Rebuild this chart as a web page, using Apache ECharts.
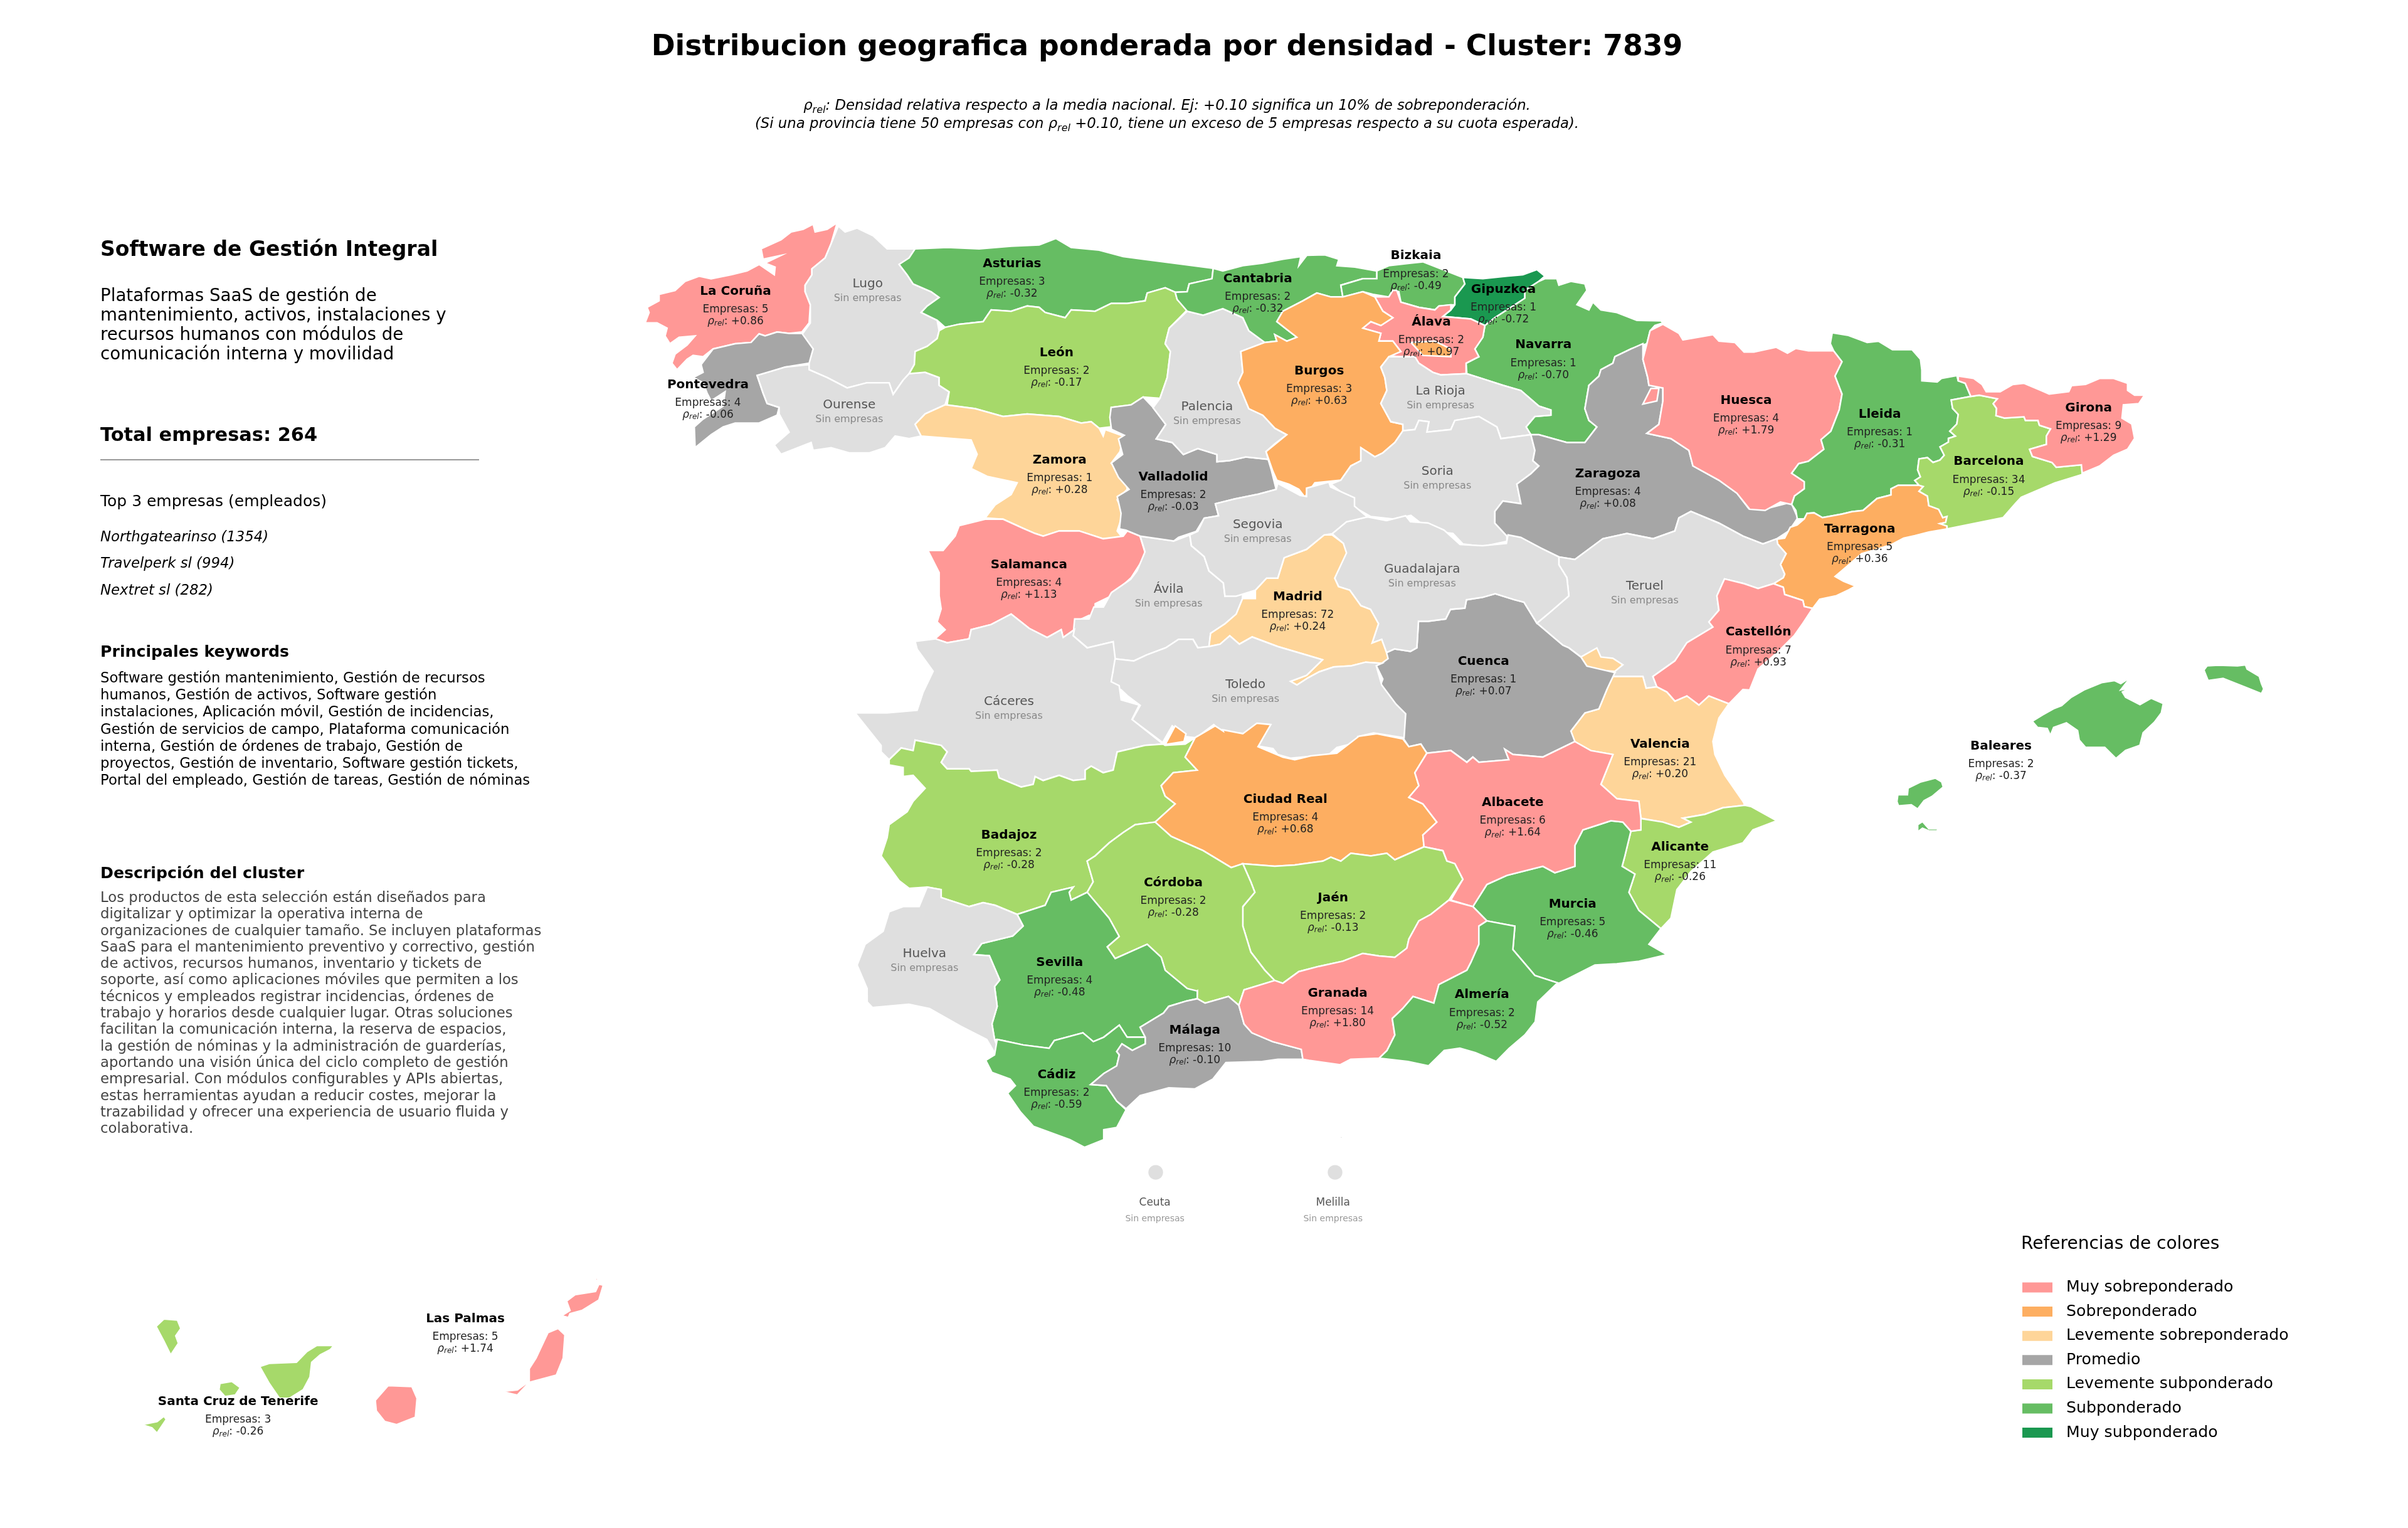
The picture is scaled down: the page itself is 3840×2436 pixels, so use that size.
<!DOCTYPE html>
<html>
<head>
<meta charset="utf-8">
<title>Distribucion geografica - Cluster 7839</title>
<script src="https://cdn.jsdelivr.net/npm/echarts@6/dist/echarts.min.js"></script>
<style>
html, body { margin: 0; background: #fff; }
#chart { width: 3840px; height: 2436px; }
</style>
</head>
<body>
<div id="chart"></div>
<script>
// datos por provincia (null = sin empresas)
var provinces = ['La Coruña', 'Lugo', 'Pontevedra', 'Ourense', 'Asturias', 'León', 'Zamora', 'Salamanca', 'Ávila', 'Valladolid', 'Palencia', 'Cantabria', 'Bizkaia', 'Gipuzkoa', 'Navarra', 'Álava', 'Burgos', 'La Rioja', 'Soria', 'Zaragoza', 'Huesca', 'Lleida', 'Tarragona', 'Barcelona', 'Girona', 'Teruel', 'Castellón', 'Valencia', 'Alicante', 'Murcia', 'Cuenca', 'Guadalajara', 'Madrid', 'Segovia', 'Toledo', 'Cáceres', 'Badajoz', 'Ciudad Real', 'Albacete', 'Jaén', 'Córdoba', 'Sevilla', 'Huelva', 'Cádiz', 'Málaga', 'Granada', 'Almería', 'Baleares', 'Santa Cruz de Tenerife', 'Las Palmas', 'Ceuta', 'Melilla'];
var empresas = [5, null, 4, null, 3, 2, 1, 4, null, 2, null, 2, 2, 1, 1, 2, 3, null, null, 4, 4, 1, 5, 34, 9, null, 7, 21, 11, 5, 1, null, 72, null, null, null, 2, 4, 6, 2, 2, 4, null, 2, 10, 14, 2, 2, 3, 5, null, null];
var rhoRel = [0.86, null, -0.06, null, -0.32, -0.17, 0.28, 1.13, null, -0.03, null, -0.32, -0.49, -0.72, -0.70, 0.97, 0.63, null, null, 0.08, 1.79, -0.31, 0.36, -0.15, 1.29, null, 0.93, 0.20, -0.26, -0.46, 0.07, null, 0.24, null, null, null, -0.28, 0.68, 1.64, -0.13, -0.28, -0.48, null, -0.59, -0.10, 1.80, -0.52, -0.37, -0.26, 1.74, null, null];

// leyenda
var legendLabels = ['Muy sobreponderado', 'Sobreponderado', 'Levemente sobreponderado', 'Promedio', 'Levemente subponderado', 'Subponderado', 'Muy subponderado'];
var legendColors = ['#ff9896', '#fdae61', '#fed599', '#a6a6a6', '#a6d96a', '#66bd63', '#1a9850'];
var legendMin = [0.75, 0.3, 0.1, -0.11, -0.3, -0.71, -Infinity];
var legendMax = [Infinity, 0.75, 0.3, 0.1, -0.11, -0.3, -0.71];

// textos del panel izquierdo
var topCompanies = ['Northgatearinso (1354)', 'Travelperk sl (994)', 'Nextret sl (282)'];
var summaryLines = ['Plataformas SaaS de gestión de', 'mantenimiento, activos, instalaciones y', 'recursos humanos con módulos de', 'comunicación interna y movilidad'];
var keywordLines = ['Software gestión mantenimiento, Gestión de recursos', 'humanos, Gestión de activos, Software gestión', 'instalaciones, Aplicación móvil, Gestión de incidencias,', 'Gestión de servicios de campo, Plataforma comunicación', 'interna, Gestión de órdenes de trabajo, Gestión de', 'proyectos, Gestión de inventario, Software gestión tickets,', 'Portal del empleado, Gestión de tareas, Gestión de nóminas'];
var descriptionLines = ['Los productos de esta selección están diseñados para', 'digitalizar y optimizar la operativa interna de', 'organizaciones de cualquier tamaño. Se incluyen plataformas', 'SaaS para el mantenimiento preventivo y correctivo, gestión', 'de activos, recursos humanos, inventario y tickets de', 'soporte, así como aplicaciones móviles que permiten a los', 'técnicos y empleados registrar incidencias, órdenes de', 'trabajo y horarios desde cualquier lugar. Otras soluciones', 'facilitan la comunicación interna, la reserva de espacios,', 'la gestión de nóminas y la administración de guarderías,', 'aportando una visión única del ciclo completo de gestión', 'empresarial. Con módulos configurables y APIs abiertas,', 'estas herramientas ayudan a reducir costes, mejorar la', 'trazabilidad y ofrecer una experiencia de usuario fluida y', 'colaborativa.'];

// contornos: cada hoja traza una zona del mapa con su propia escala
function sheet(x0, y0, sx, sy) {
    return function(str) {
        var n = str.trim().split(/\s+/).map(Number), out = [];
        for (var i = 0; i < n.length; i += 2) out.push([x0 + n[i] * sx, -(y0 + n[i + 1] * sy)]);
        return out;
    };
}
var a = sheet(1000, 320, 0.638, 0.4145), b = sheet(1950, 320, 0.638, 0.4145);
var c = sheet(1000, 950, 0.638, 0.4145), d = sheet(1950, 950, 0.638, 0.4145);
var e = sheet(1300, 1450, 0.829, 0.351), f = sheet(2900, 1000, 0.51, 0.333);
var g = sheet(180, 2000, 0.542, 0.337), h = sheet(1650, 650, 0.51, 0.3827);
var k = sheet(2750, 500, 0.4464, 0.3827);
function ring() {
    var pts = [];
    for (var i = 0; i < arguments.length; i++) pts = pts.concat(arguments[i]);
    pts.push(pts[0]);
    return [pts];
}
function dot(cx, cy, r) {
    var pts = [];
    for (var i = 0; i < 24; i++) pts.push([cx + r * Math.cos(i * Math.PI / 12), -(cy + r * Math.sin(i * Math.PI / 12))]);
    return ring(pts);
}

var outlines = {
    'La Coruña': [ring(a('525 85 510 165 495 220 462 262 462 285 445 325 445 350 458 400 455 470 437 505 405 510 375 505 345 520 330 512 310 545 270 550 215 570 190 600 165 595 150 610 125 650 112 625 120 590 150 555 170 520 130 525 107 550 95 520 100 490 75 470 45 470 55 430 50 410 80 385 80 360 120 345 145 310 180 290 210 300 260 285 300 270 330 245 368 285 370 255 345 240 385 210 340 225 335 185 385 150 410 120 440 110 465 90 470 120 500 110'))],
    'Lugo': [ring(a('528 97 545 120 575 105 615 135 650 185 720 185 705 220 680 245 700 285 715 320 760 350 780 372 750 405 735 430 775 460 780 500 775 530 750 560 720 580 718 630 705 665 690 690 665 745 655 700 600 700 550 720 500 680 455 650 452 630 465 570 437 515 458 470 458 400 445 350 445 325 462 285 462 262 495 220 510 165'))],
    'Pontevedra': [ring(a('437 510 465 570 455 625 395 640 345 665 325 672 340 740 350 780 380 795 375 825 330 855 270 855 240 870 210 900 170 950 168 870 190 840 240 790 245 735 210 770 200 740 190 700 165 680 190 660 185 630 215 570 270 550 310 545 330 512 345 520 375 505 405 510'))],
    'Ourense': [ring(a('325 672 395 640 455 630 455 650 500 680 550 720 600 700 655 700 665 745 690 690 705 665 745 660 780 680 780 710 805 735 795 785 745 820 720 860 735 905 705 915 670 905 645 950 605 970 555 970 510 950 465 960 460 930 385 975 368 940 405 890 380 820 380 795 350 780 340 740'))],
    'Asturias': [ring(a('720 185 800 180 880 185 960 175 1030 170 1072 145 1110 180 1180 190 1240 215 1290 225 1390 245 1465 260 1462 300 1405 320 1400 350 1370 352 1345 335 1300 355 1295 385 1250 395 1210 395 1170 425 1110 420 1095 450 1045 430 1030 410 1000 405 960 425 910 420 890 465 830 475 795 487 775 460 735 430 750 405 780 372 760 350 715 320 700 285 680 245 705 220'))],
    'León': [ring(a('795 487 830 475 890 465 910 420 960 425 1000 405 1030 410 1045 430 1095 450 1110 420 1170 425 1210 395 1250 395 1295 385 1300 355 1345 335 1370 352 1375 380 1400 420 1355 490 1345 550 1358 580 1350 680 1332 760 1290 755 1260 785 1210 795 1210 870 1180 875 1160 850 1135 855 1080 830 1000 820 940 830 870 800 800 785 805 735 780 710 780 680 745 660 705 665 718 630 720 580 750 560 775 530 780 500'))],
    'Zamora': [ring(a('795 785 870 800 940 830 1000 820 1080 830 1135 855 1160 850 1180 875 1190 905 1195 880 1240 905 1232 965 1210 1010 1245 1060 1250 1110 1225 1150 1240 1200 1225 1270 1240 1300 1190 1300 1130 1270 1080 1270 1040 1290 1020 1280 990 1260 940 1225 895 1220 920 1170 960 1130 975 1085 900 1060 860 1030 875 975 860 920 735 905 720 860 745 820'))],
    'Salamanca': [ring(a('752 1345 790 1345 820 1290 830 1250 895 1225 940 1225 990 1260 1020 1280 1040 1290 1080 1270 1130 1270 1190 1300 1240 1290 1250 1270 1282 1290 1295 1355 1285 1390 1260 1450'), c('1210 0 1170 30 1170 45 1195 40 1170 95 1155 75 1120 100 1118 130 1090 160 1085 130 1050 160 1005 125 960 70 910 110 860 130 855 165 820 175 800 180 770 165 795 130 775 100 785 50 780 0'), a('780 1430'))],
    'Ávila': [ring(h('330 535 435 555 485 530 490 575 530 620 545 680 590 730 595 785 650 765 650 795 630 860 595 900 550 940 545 995 510 1000 495 965 450 965 410 1000 350 1030 310 1055 245 1045 245 975 165 1000 120 950 125 880 170 880 185 830 215 830 240 770 300 715 320 680 345 600'))],
    'Valladolid': [ring(a('1210 795 1260 785 1290 755 1315 795'), h('370 0 410 70 380 130 430 145 465 195 510 170 570 195 570 225 610 220 660 205 730 215 740 260 755 340 700 360 625 380 565 400 575 450 530 460 505 515 450 540 435 555 330 535 285 510 265 505 270 440 258 370 295 340 262 290 240 230 275 195 262 130 280 115 240 90 235 40'))],
    'Palencia': [ring(a('1400 425 1440 440'), b('0 415 50 450 65 500 105 545 45 580 50 660 38 700 65 800 100 825 130 875 160 900 130 935 108 965'), h('730 215 660 205 610 220 570 225 570 195 510 170 465 195 430 145 380 130 410 70 370 0'), a('1332 760 1350 680 1358 580 1345 550 1355 490'))],
    'Cantabria': [ring(a('1465 260 1462 300 1405 320 1400 350 1370 352 1375 380 1400 425 1440 440'), b('0 415 50 450 65 500 105 545 135 540 130 515 160 540 185 525 160 495 135 465 150 425 200 385 235 355 270 370 300 370 295 325 350 300 385 300 385 270 330 255 285 250 290 225 255 208 210 210 190 250 195 215 150 225 100 240 50 250 0 270'))],
    'Bizkaia': [ring(b('385 270 415 250 470 240 500 235 550 265 600 295 605 320 580 370 580 400 540 405 530 420 490 410 445 390 440 350 425 345 415 370 375 360 350 350 300 370 295 325 350 300 385 300'))],
    'Navarra': [ring(b('790 310 805 300 835 300 840 325 870 310 905 320 910 345 885 400 915 420 925 390 945 420 985 430 1035 460 1095 462 1100 470 1080 480 1068 500 1060 550 1020 570 980 600 975 625 945 650 940 675 915 710 905 800 915 845 935 870 905 930 860 930 790 900 770 900 758 870 780 830 820 825 820 805 790 790 745 730 700 710 640 680 610 665 608 625 640 600 630 570 650 525 655 480 680 450 720 410 755 375 755 345'))],
    'Gipuzkoa': [ring(b('600 295 650 300 710 290 750 285 785 265 805 290 790 310 755 345 755 375 720 410 680 450 655 480 620 455 550 445 570 420 580 400 580 370 605 320'))],
    'Álava': [ring(b('435 345 445 390 490 410 530 420 540 405 570 400 570 420 550 445 620 455 655 480 650 525 630 570 640 600 608 625 608 665 545 670 525 660 490 625 480 600 440 600 415 595 445 580 425 540 390 540 395 510 350 490 370 465 395 480 425 450 400 425 380 370 415 370 425 345'))],
    'Burgos': [ring(b('235 355 270 370 300 370 350 350 380 370 400 425 425 450 395 480 370 465 350 490 395 510 390 540 425 540 445 580 415 600 395 640 405 680 410 730 395 780 420 850 450 860 450 885 430 930 400 970 380 985 345 950 345 1000 320 1020 295 1075 230 1085 205 1140 190 1110 165 1090 135 1075 125 1040 108 965 160 900 130 875 100 825 65 800 38 700 50 660 45 580 105 545 135 540 130 515 160 540 185 525 160 495 135 465 150 425 200 385')), ring(b('470 545 530 540 570 570 570 600 500 595'))],
    'La Rioja': [ring(b('415 600 440 600 480 600 490 625 525 660 545 670 608 665 640 680 700 710 745 730 790 790 820 805 820 825 780 830 758 870 770 900 695 915 685 870 640 830 580 845 570 880 510 890 515 850 490 845 480 880 450 885 450 860 420 850 395 780 410 730 405 680 395 640'))],
    'Soria': [ring(b('450 885 480 880 490 845 515 850 510 890 570 880 580 845 640 830 685 870 695 915 770 900 780 960 775 1000 790 1020 770 1050 735 1090 745 1165 700 1155 680 1195 680 1240 710 1290 710 1310 650 1330 600 1320 575 1280 520 1270 470 1210 430 1225 370 1215 330 1180 295 1120 270 1090 295 1075 320 1020 345 1000 345 950 380 985 400 970 430 930'))],
    'Zaragoza': [ring(b('770 900 790 900 860 930 905 930 935 870 915 845 905 800 915 710 940 675 945 650 975 625 980 600 1020 570 1050 550 1050 610 1062 680 1065 710 1100 720 1100 770 1090 860 1060 895 1120 915 1165 960 1175 1020 1240 1075 1285 1125 1315 1185 1370 1180 1420 1160 1437 1220 1415 1270 1385 1300 1350 1320 1300 1290 1240 1240 1170 1195 1140 1220 1130 1270 1075 1300 1010 1280 950 1300 880 1380 840 1370 800 1340 710 1290 680 1240 680 1195 700 1155 745 1165 735 1090 770 1050 790 1020 775 1000 780 960'))],
    'Huesca': [ring(b('1100 475 1140 510 1150 535 1225 515 1240 540 1280 545'), k('70 160 105 160 185 140 225 165 255 145 300 155 360 155 390 155 420 200 395 260 420 335 410 400 380 490 345 525 355 565 300 615 265 625 240 665 285 700 285 730 250 760 240 795 200 785 145 820 90 815'), b('1285 1125 1240 1075 1175 1020 1165 960 1120 915 1060 895 1090 860 1100 770 1100 720 1065 710 1062 680 1050 610 1060 550 1068 500')), ring(b('1070 722 1090 722 1085 770 1050 782'))],
    'Lleida': [ring(k('385 80 440 90 510 120 550 115 600 150 670 150 700 190 705 235 705 280 760 285 775 270 830 258 835 280 860 290 880 345 810 360 815 395 835 420 830 460 805 490 825 510 800 520 800 535 770 555 785 590 770 610 745 620 725 600 695 605 690 650 700 680 680 695 695 715 620 715 595 730 595 755 545 770 495 820 455 825 420 835 350 850 320 830 295 832 285 855 260 855 255 820 240 795 250 760 285 730 285 700 240 665 265 625 300 615 355 565 345 525 380 490 410 400 420 335 395 260 420 200 390 155 378 125'))],
    'Tarragona': [ring(k('260 880 285 855 295 832 320 830 350 850 420 835 455 825 495 820 545 770 595 755 595 730 620 715 695 715 710 720 695 740 725 760 730 800 765 815 780 850 795 845 790 870 770 875 795 885 795 897 730 910 680 925 640 935 600 960 550 980 490 1000 440 1050 395 1095 425 1115 468 1135 445 1150 400 1175 340 1190 315 1228 285 1220 280 1195 215 1170 210 1140 175 1125 210 1100 215 1085 200 1045 220 1000 190 960 185 940 215 935 235 890'))],
    'Barcelona': [ring(k('810 360 880 345 910 340 975 355 960 375 972 395 970 425 1000 435 1070 430 1075 445 1120 445 1125 465 1165 480 1150 510 1150 545 1090 565 1100 595 1170 620 1185 640 1275 630 1278 670 1180 705 1060 765 1040 790 995 850 795 897 795 885 770 875 790 870 795 845 780 850 765 815 730 800 725 760 695 740 710 720 695 715 680 695 700 680 690 650 695 605 725 600 745 620 770 610 785 590 770 555 800 535 800 520 825 510 805 490 830 460 835 420 815 395'))],
    'Girona': [ring(k('835 260 890 270 920 295 935 325 985 325 1030 295 1070 290 1130 320 1160 335 1230 325 1240 300 1290 295 1340 270 1390 270 1440 290 1440 320 1465 340 1500 340 1480 375 1425 380 1420 435 1455 460 1465 520 1440 565 1390 590 1340 635 1278 665 1275 630 1185 640 1170 620 1100 595 1090 565 1150 545 1150 510 1165 480 1125 465 1120 445 1075 445 1070 430 1000 435 970 425 972 395 960 375 975 355 910 340 880 345 860 290 835 280'))],
    'Teruel': [ring(b('840 1370 880 1380 950 1300 1010 1280 1075 1300 1130 1270 1140 1220 1170 1195 1240 1240 1300 1290 1350 1320 1385 1300'), k('190 960 220 1000 200 1045 215 1085 210 1100 175 1125 120 1145 70 1125 0 1105'), d('1235 0 1240 55 1215 100 1225 120 1160 180 1130 250 1075 310 1085 350 1058 355 1050 310 970 310 980 295 910 270 895 235 865 200 850 190 785 105 820 60 865 0'), b('860 1450 840 1400'))],
    'Castellón': [ring(k('0 1105 70 1125 120 1145 175 1125 210 1140 215 1170 280 1195 285 1220 315 1228 280 1290 250 1340 190 1410 120 1480 90 1568'), d('1300 360 1265 415 1215 385 1190 420 1160 385 1130 405 1110 370 1085 350 1075 310 1130 250 1160 180 1225 120 1215 100 1240 55 1235 0'))],
    'Valencia': [ring(d('970 310 1050 310 1058 355 1085 350 1110 370 1130 405 1160 385 1190 420 1215 385 1265 415 1240 470 1225 560 1230 610 1255 690 1300 790 1305 805 1250 815 1205 840 1150 855 1170 870 1140 890 1100 870 1045 855 1040 790 985 780 945 725 975 610 920 595 880 565 870 520 905 450 940 435 960 360')), ring(d('895 235 935 200 945 235 975 240 1000 265 980 290 930 285 910 270'))],
    'Alicante': [ring(d('1305 805 1320 810 1385 865 1325 900 1300 950 1225 985 1170 1060 1135 1130 1120 1240 1095 1280 1040 1210 1015 1140 1030 1070 998 1040 1005 1000 1020 905 1045 900 1040 855 1100 870 1140 890 1170 870 1150 855 1205 840 1250 815'))],
    'Murcia': [ring(d('1020 905 1005 1000 998 1040 1030 1070 1015 1140 1040 1210 1095 1280 1065 1340 1110 1380 1040 1405 985 1415 930 1420 840 1490 780 1460 725 1360 730 1270 660 1250 625 1195 660 1110 710 1075 800 1040 830 1065 880 1040 880 960 900 900 970 865 1000 870'))],
    'Cuenca': [ring(h('1068 1075 1100 1020 1125 1005 1175 1015 1195 1000 1200 890 1230 890 1285 880 1300 840 1345 835 1350 800 1400 790 1440 775 1500 800 1530 810'), d('785 105 850 190 865 200 895 235 910 270 980 295 960 360 940 435 905 450 870 520 880 560 800 620 725 610 705 590 715 630 640 640 625 620 610 640 570 595 510 605 495 570 465 580 450 545 455 460 415 390 395 340 400 320'))],
    'Guadalajara': [ring(h('930 525 975 475 1040 455 1100 470 1160 450 1175 475 1230 480 1280 510 1330 570 1400 575 1475 565 1480 530 1520 540'), b('800 1340 840 1370 840 1400 860 1450 865 1520'), d('820 60 785 105'), h('1530 810 1500 800 1440 775 1400 790 1350 800 1345 835 1300 840 1285 880 1230 890 1200 890 1195 1000 1175 1015 1125 1005 1100 1020 1085 965 1055 980 1075 900 1050 840 1020 825 985 760 950 745 938 710 965 610 965 565'))],
    'Madrid': [ring(h('905 530 930 530 965 565 975 605 938 710 950 745 985 760 1020 825 1050 840 1075 900 1055 980 1085 965 1100 1020 1105 1045 1085 1065 1035 1060 990 1075 935 1080 890 1100 855 1125 820 1155 800 1140 850 1115 900 1050 850 1030 760 995 680 955 640 985 610 950 580 985 545 995 550 940 595 900 630 860 650 795 690 795 690 760 725 710 760 710 780 625 850 590'))],
    'Segovia': [ring(h('485 530 510 515 530 460 575 450 565 400 625 380 700 360 755 340 760 315 830 365 850 370 850 335 920 310 925 330 1000 375 1000 410 1040 455 975 475 930 525 905 530 850 590 780 625 760 710 725 710 690 760 630 785 595 785 590 730 545 680 530 620 490 575'))],
    'Toledo': [ring(h('245 1045 310 1055 350 1030 410 1000 450 965 495 965 510 1000 545 995 580 985 610 950 640 985 680 955 760 995 850 1030 900 1050 850 1115 800 1140 820 1155 855 1125 890 1100 935 1080 990 1075 1035 1060 1085 1065 1068 1075 1085 1155 1130 1235 1160 1275 1155 1375 1060 1355 1010 1370 1005 1395 945 1415 920 1445 800 1460 760 1445 745 1420 700 1410 735 1320 695 1315 690 1360 630 1355 580 1345 560 1320 505 1375 470 1370 430 1325 400 1395 305 1300 330 1240 290 1200 270 1175 230 1155 245 1100'))],
    'Cáceres': [ring(c('720 175 770 165 800 180 820 175 855 165 860 130 910 110 960 70 1005 125 1050 160 1085 130 1090 160 1118 130 1115 153 1150 200 1215 176 1220 240 1210 330 1230 345 1235 400 1280 420 1262 475 1340 570 1295 575 1225 600 1215 670 1190 680 1160 655 1145 670 1145 705 1115 710 1080 690 1040 710 1020 695 1015 725 985 735 930 700 925 670 860 675 855 665 800 665 785 640 800 600 785 575 720 555 715 595 685 585 655 630 635 600 635 575 570 450 650 450 725 440 740 370 765 290 725 205'))],
    'Badajoz': [ring(c('635 1000 650 930 655 880 700 830 715 790 745 740 715 690 690 695 690 660 655 650 655 630 685 585 715 595 720 555 785 575 800 600 785 640 800 665 855 665 860 675 925 670 930 700 985 735 1015 725 1020 695 1040 710 1080 690 1115 710 1145 705 1145 670 1160 655 1190 680 1215 670 1225 600 1295 575 1340 570 1345 575 1395 570 1420 545 1395 620 1425 670 1365 680 1335 730 1345 770 1370 800 1320 870 1270 880 1240 910 1205 950 1170 1000 1150 1020 1165 1100 1150 1140 1110 1170 1105 1140 1115 1120 1060 1140 1045 1190 975 1225 920 1190 890 1180 855 1195 785 1160 785 1130 750 1120 705 1125 680 1095'))],
    'Ciudad Real': [ring(c('1420 545 1470 500 1490 520'), d('0 515 50 530 85 490 120 495 88 580 150 620 180 630 220 615 285 605 340 540 385 530 450 550 465 580 495 570 510 605 480 680 490 730 465 775 500 800 535 870 500 920 503 965 430 1015 410 990 370 1000 320 990 295 1020 270 1005 250 1020 180 1035 130 1040 50 1030'), c('1510 1045 1440 980 1360 925 1320 870 1370 800 1345 770 1335 730 1365 680 1425 670 1395 620')), ring(c('1345 572 1370 500 1397 530 1392 560'))],
    'Albacete': [ring(d('510 605 570 595 610 640 625 620 640 640 715 630 705 590 725 610 800 620 880 560 920 595 975 610 945 725 985 780 1040 790 1045 855 1045 900 1020 905 1000 870 970 865 900 900 880 960 880 1040 830 1065 800 1040 710 1075 660 1110 625 1195 570 1170 600 1090 580 1030 560 1020 550 980 503 965 500 920 535 870 500 800 465 775 490 730 480 680'))],
    'Jaén': [ring(d('50 1030 130 1040 180 1035 250 1020 270 1005 295 1020 320 990 370 1000 410 990 430 1015 503 965 550 980 560 1020 580 1030 600 1090 565 1170 520 1225 490 1250 465 1320 460 1355 430 1390 390 1385 350 1375 300 1405 240 1425 190 1445 150 1490 130 1480 105 1440 70 1370 50 1270 50 1195 80 1140 70 1100'))],
    'Córdoba': [ring(c('1320 870 1360 925 1440 980 1510 1045'), d('50 1030 70 1100 80 1140 50 1195 50 1270 70 1370 105 1440 130 1480'), e('884 322 825 365 815 435 795 395 750 425 720 405 735 370'), c('1425 1530 1400 1510 1345 1440 1335 1390 1300 1340 1220 1395 1200 1350 1230 1310 1205 1240 1150 1140 1165 1100 1150 1020 1170 1000 1205 950 1240 910 1270 880'))],
    'Sevilla': [ring(c('975 1225 1045 1190 1060 1140 1115 1120 1105 1140 1110 1170 1150 1140 1205 1240 1230 1310 1200 1350 1220 1395 1300 1340 1335 1390 1345 1440 1400 1510'), e('735 370 735 405 715 415 680 440 670 470 625 535 635 580 600 580 585 525 555 580 535 600 515 560 460 595 450 630 400 615 360 595 345 590 340 520 350 440 345 350 355 320 335 210 305 205 320 155 380 120 400 75 390 30'))],
    'Huelva': [ring(c('750 1120 785 1130 785 1160 855 1195 890 1180 920 1190 975 1225'), e('400 75 380 120 320 155 305 205 335 210 355 320 345 350 350 440 340 520 345 590 350 620 345 650 330 590 280 530 220 450 180 430 110 445 100 420'), c('600 1510 575 1420 595 1340 640 1290 655 1215 690 1195 730 1195'))],
    'Cádiz': [ring(e('350 590 400 615 450 630 460 595 515 560 535 600 555 580 585 525 600 580 635 580 635 610 610 640 590 610 580 645 585 660 580 710 555 745 530 795 560 800 580 870 598 910 580 990 555 1000 555 1045 518 1080 490 1045 420 985 395 920 370 835 385 800 375 770 340 740 328 685 345 660'))],
    'Málaga': [ring(e('735 405 750 425 795 395 815 435 825 520 840 560 880 600 935 635 938 680 890 680 860 690 790 695 765 770 730 815 680 810 625 845 598 905 580 870 560 800 530 795 555 745 580 710 585 660 580 645 590 610 610 640 635 610 635 580 625 535 670 470 680 440 715 415'))],
    'Granada': [ring(e('815 435 825 365 884 322'), d('150 1490 190 1445 240 1425 300 1405 350 1375 390 1385 430 1390 460 1355 465 1320 490 1250 520 1225 565 1170 625 1195 660 1250 640 1270 640 1340 620 1410 610 1440 540 1495'), e('1190 425 1150 395 1130 450 1110 495 1115 570 1100 640 1085 675 1030 680 1010 705 950 685 938 680 935 635 880 600 840 560 825 520'))],
    'Almería': [ring(d('660 1250 730 1270 725 1360 780 1460 840 1490'), e('1425 340 1390 420 1385 510 1365 570 1335 630 1310 690 1270 650 1240 630 1210 640 1180 710 1140 690 1085 675 1100 640 1115 570 1110 495 1130 450 1150 395 1190 425'), d('540 1495 610 1440 620 1410 640 1340 640 1270'))],
    'Baleares': [ring(f('668 450 700 420 735 390 760 375 790 335 830 300 885 265 925 255 945 270 975 240 945 300 975 290 950 310 960 335 1005 370 1040 340 1078 365 1072 410 1050 455 1015 505 1005 565 960 590 930 628 895 575 835 575 815 540 810 495 775 458 735 480 725 518 715 485 685 480')), ring(f('1205 205 1215 185 1250 182 1310 185 1335 180 1340 200 1378 235 1385 270 1392 295 1385 318 1340 290 1265 245 1218 255')), ring(f('248 802 278 802 280 770 320 740 365 722 385 740 390 765 355 810 330 830 310 870 290 850 250 855 245 835')), ring(f('310 980 310 945 325 930 345 965 375 965 370 975 345 975 325 962')), ring(f('880 703 888 700 890 707'))],
    'Santa Cruz de Tenerife': [ring(g('127 340 150 305 190 310 200 350 185 385 193 420 170 475 150 410')), ring(g('432 530 460 515 540 510 570 460 600 430 650 430 640 450 610 475 585 510 580 580 560 640 520 680 490 680 460 610')), ring(g('315 610 350 600 375 630 360 665 330 672 312 640')), ring(g('85 805 130 790 150 765 157 780 130 845 115 820'))],
    'Las Palmas': [ring(g('772 690 810 620 880 625 895 680 890 770 835 805 800 790 775 740')), ring(g('1145 648 1190 640 1225 600 1225 540 1245 490 1280 370 1310 350 1330 380 1325 490 1305 570 1225 605 1190 665')), ring(g('1320 290 1345 265 1335 220 1360 190 1420 175 1430 140 1443 145 1430 215 1380 265 1345 280 1340 298')), ring(g('1417 125 1425 105 1427 120')), ring(g('1418 48 1423 48 1422 54'))],
    'Ceuta': [dot(1843, 1869, 13), ring(e('638 975 648 985 642 988'))],
    'Melilla': [dot(2129, 1869, 13), ring(e('1012 1025 1016 1040 1008 1040'))]
};

// centro del nombre de cada provincia, en coordenadas de 1568 de ancho
var labelAt = {
    'La Coruña': [479, 189], 'Lugo': [565, 184], 'Pontevedra': [461, 250], 'Ourense': [553, 263], 'Asturias': [659, 171], 'León': [688, 229],
    'Zamora': [690, 299], 'Salamanca': [670, 367], 'Ávila': [761, 383], 'Valladolid': [764, 310], 'Palencia': [786, 264], 'Cantabria': [819, 181],
    'Bizkaia': [922, 166], 'Gipuzkoa': [979, 188], 'Navarra': [1005, 224], 'Álava': [932, 209], 'Burgos': [859, 241], 'La Rioja': [938, 254],
    'Soria': [936, 306], 'Zaragoza': [1047, 308], 'Huesca': [1137, 260], 'Lleida': [1224, 269], 'Tarragona': [1211, 344], 'Barcelona': [1295, 300],
    'Girona': [1360, 265], 'Teruel': [1071, 381], 'Castellón': [1145, 411], 'Valencia': [1081, 484], 'Alicante': [1094, 551], 'Murcia': [1024, 588],
    'Cuenca': [966, 430], 'Guadalajara': [926, 370], 'Madrid': [845, 388], 'Segovia': [819, 341], 'Toledo': [811, 445], 'Cáceres': [657, 456],
    'Badajoz': [657, 543], 'Ciudad Real': [837, 520], 'Albacete': [985, 522], 'Jaén': [868, 584], 'Córdoba': [764, 574], 'Sevilla': [690, 626],
    'Huelva': [602, 620], 'Cádiz': [688, 699], 'Málaga': [778, 670], 'Granada': [871, 646], 'Almería': [965, 647], 'Baleares': [1303, 485],
    'Santa Cruz de Tenerife': [155, 912], 'Las Palmas': [303, 858], 'Ceuta': [752, 783], 'Melilla': [868, 783]
};
var PX = 3840 / 1568;
var FONT = '"DejaVu Sans"';

var features = provinces.map(function(name, i) {
    var pos = labelAt[name];
    var small = name === 'Ceuta' || name === 'Melilla';
    var shift = small ? 13 : (empresas[i] === null ? 13.5 : 20.6);
    return {
        type: 'Feature',
        properties: { name: name, cp: [pos[0] * PX, -(pos[1] * PX + shift)] },
        geometry: { type: 'MultiPolygon', coordinates: outlines[name] }
    };
});
echarts.registerMap('espana', { type: 'FeatureCollection', features: features });

var seriesData = [];
provinces.forEach(function(name, i) {
    if (rhoRel[i] !== null) seriesData.push({ name: name, value: rhoRel[i] });
});

function regionLabel(params) {
    var i = provinces.indexOf(params.name);
    if (params.name === 'Ceuta' || params.name === 'Melilla') return '{tiny|' + params.name + '}\n{tinySin|Sin empresas}';
    if (empresas[i] === null) return '{off|' + params.name + '}\n{sin|Sin empresas}';
    var v = rhoRel[i];
    return '{on|' + params.name + '}\n{emp|Empresas: ' + empresas[i] + '}\n{rho|ρ}{sub|rel}{emp|: ' + (v > 0 ? '+' : '') + v.toFixed(2) + '}';
}

// textos sueltos
function txt(x, y, str, font, fill) {
    return { type: 'text', silent: true, style: { x: x, y: y, text: str, font: font, fill: fill, align: 'left', verticalAlign: 'middle' } };
}
var graphics = [];
graphics.push(txt(160, 399, 'Software de Gestión Integral', 'bold 33px ' + FONT, '#000'));
summaryLines.forEach(function(s, i) { graphics.push(txt(160, 473 + i * 31, s, '27.7px ' + FONT, '#000')); });
graphics.push(txt(160, 695, 'Total empresas: 264', 'bold 30.4px ' + FONT, '#000'));
graphics.push({ type: 'line', silent: true, shape: { x1: 160, y1: 733, x2: 764, y2: 733 }, style: { stroke: '#999', lineWidth: 2 } });
graphics.push(txt(160, 800, 'Top 3 empresas (empleados)', '25px ' + FONT, '#000'));
topCompanies.forEach(function(s, i) { graphics.push(txt(160, 857 + i * 42.5, s, 'italic 22.8px ' + FONT, '#000')); });
graphics.push(txt(160, 1040, 'Principales keywords', 'bold 25.2px ' + FONT, '#000'));
keywordLines.forEach(function(s, i) { graphics.push(txt(160, 1082 + i * 27.2, s, '22.75px ' + FONT, '#000')); });
graphics.push(txt(160, 1393, 'Descripción del cluster', 'bold 25.2px ' + FONT, '#000'));
descriptionLines.forEach(function(s, i) { graphics.push(txt(160, 1432 + i * 26.3, s, '22.75px ' + FONT, '#444')); });
graphics.push(txt(3223, 1984, 'Referencias de colores', '28px ' + FONT, '#000'));
graphics.push({
    type: 'text', silent: true,
    style: {
        x: 1861, y: 183.5, align: 'center', verticalAlign: 'middle',
        text: '{rho|ρ}{sub|rel}{it|: Densidad relativa respecto a la media nacional. Ej: +0.10 significa un 10% de sobreponderación.}\n{it|(Si una provincia tiene 50 empresas con }{rho|ρ}{sub|rel}{it| +0.10, tiene un exceso de 5 empresas respecto a su cuota esperada).}',
        rich: {
            it: { font: 'italic 22.8px ' + FONT, fill: '#000', lineHeight: 29 },
            rho: { font: 'italic 22.8px ' + FONT, fill: '#000', lineHeight: 29 },
            sub: { font: 'italic 16px ' + FONT, fill: '#000', verticalAlign: 'bottom', lineHeight: 26 }
        }
    }
});

var chart = echarts.init(document.getElementById('chart'));
chart.setOption({
    animation: false,
    backgroundColor: '#fff',
    textStyle: { fontFamily: FONT },
    title: {
        text: 'Distribucion geografica ponderada por densidad - Cluster: 7839',
        left: 1856, top: 48, textAlign: 'center',
        textStyle: { color: '#000', fontSize: 45.7, fontWeight: 'bold', fontFamily: FONT }
    },
    visualMap: {
        type: 'piecewise',
        seriesIndex: 0,
        orient: 'vertical',
        align: 'left',
        left: 3225, top: 2040,
        itemWidth: 48, itemHeight: 16, itemGap: 13.6, textGap: 22,
        itemSymbol: 'rect',
        selectedMode: false, hoverLink: false,
        padding: 0,
        textStyle: { color: '#000', fontSize: 25.2, fontFamily: FONT },
        pieces: legendLabels.map(function(label, i) {
            var p = { label: label, color: legendColors[i] };
            if (isFinite(legendMin[i])) p.min = legendMin[i];
            if (isFinite(legendMax[i])) p.max = legendMax[i];
            return p;
        })
    },
    graphic: graphics,
    series: [{
        type: 'map',
        map: 'espana',
        roam: false,
        silent: true,
        aspectScale: 1,
        layoutCenter: ['50%', '50%'],
        layoutSize: 3840,
        boundingCoords: [[0, 0], [3840, -2436]],
        itemStyle: { areaColor: '#dfdfdf', borderColor: '#fff', borderWidth: 2.5 },
        label: {
            show: true,
            formatter: regionLabel,
            fontFamily: FONT,
            rich: {
                on: { fontSize: 20, fontWeight: 'bold', color: '#000', lineHeight: 39, fontFamily: FONT, align: 'center' },
                emp: { fontSize: 17, color: '#222', lineHeight: 19, fontFamily: FONT },
                rho: { fontSize: 17, fontStyle: 'italic', color: '#222', lineHeight: 19, fontFamily: FONT },
                sub: { fontSize: 12, fontStyle: 'italic', color: '#222', lineHeight: 17, verticalAlign: 'bottom', fontFamily: FONT },
                off: { fontSize: 20, color: '#555', lineHeight: 23, fontFamily: FONT },
                sin: { fontSize: 16, color: '#888', lineHeight: 23, fontFamily: FONT },
                tiny: { fontSize: 17, color: '#555', lineHeight: 26, fontFamily: FONT },
                tinySin: { fontSize: 14, color: '#999', lineHeight: 26, fontFamily: FONT }
            }
        },
        data: seriesData
    }]
});
</script>
</body>
</html>
